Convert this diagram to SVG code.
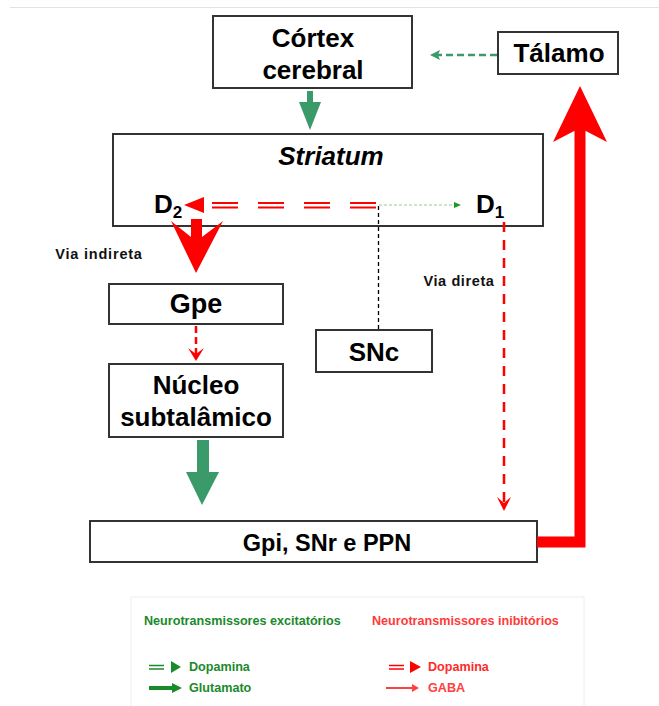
<svg xmlns="http://www.w3.org/2000/svg" width="659" height="706" viewBox="0 0 659 706">
<style>
.box{fill:#fff;stroke:#333;stroke-width:2}
.t{font-family:"Liberation Sans",Arial,sans-serif;font-weight:bold;fill:#000;text-anchor:middle}
.big{font-size:26px}
.sm{font-size:14.5px;fill:#111;letter-spacing:0.8px}
.lg{font-family:"Liberation Sans",Arial,sans-serif;font-weight:bold;font-size:12.6px}
</style>
<rect width="659" height="706" fill="#fff"/>
<line x1="10" y1="7.5" x2="659" y2="7.5" stroke="#e3e3e3" stroke-width="1"/>

<g id="cortex"><rect class="box" x="213" y="16" width="199" height="72"/>
<text class="t big" x="313" y="47">Córtex</text><text class="t big" x="313" y="79">cerebral</text></g>

<g id="talamo"><rect class="box" x="498" y="32" width="120" height="42"/>
<text class="t big" x="559" y="62" font-size="26.5">Tálamo</text></g>

<g id="striatum"><rect class="box" x="113" y="134" width="430" height="92"/>
<text class="t big" x="331" y="165" font-style="italic">Striatum</text>
<text class="t" x="154" y="213" style="text-anchor:start;font-size:26px">D<tspan font-size="17" dy="5">2</tspan></text>
<text class="t" x="476" y="213" style="text-anchor:start;font-size:26px">D<tspan font-size="17" dy="5">1</tspan></text></g>

<g id="gpe"><rect class="box" x="109" y="284" width="174" height="40"/>
<text class="t" x="196" y="313" font-size="27">Gpe</text></g>

<g id="snc"><rect class="box" x="316" y="330" width="116" height="42"/>
<text class="t" x="374" y="361" font-size="26">SNc</text></g>

<g id="nucleo"><rect class="box" x="109" y="364" width="174" height="73"/>
<text class="t big" x="196" y="394">Núcleo</text><text class="t big" x="196" y="426">subtalâmico</text></g>

<g id="gpi"><rect class="box" x="90" y="521" width="447" height="41"/>
<text class="t" x="327" y="551" font-size="23.5">Gpi, SNr e PPN</text></g>

<g id="labels">
<text class="t sm" x="99" y="259">Via indireta</text>
<text class="t sm" x="459" y="286" font-size="15" style="letter-spacing:0.6px">Via direta</text>
</g>

<g id="connectors">
<line x1="497" y1="55" x2="438" y2="55" stroke="#3a9a6a" stroke-width="2.5" stroke-dasharray="7 4"/>
<polygon points="430,55 440,50 438,55 440,60" fill="#3a9a6a"/>
<rect x="307" y="91" width="6" height="13" fill="#3a9a6a"/>
<polygon points="299,102 321,102 310,130" fill="#3a9a6a"/>
<g stroke="#f00" stroke-width="2" stroke-dasharray="26 20">
<line x1="212" y1="203" x2="378" y2="203"/><line x1="212" y1="207.5" x2="378" y2="207.5"/></g>
<polygon points="184,205 204,197 204,213" fill="#f00"/>
<line x1="379" y1="205" x2="455" y2="205" stroke="#8fd08f" stroke-width="1" stroke-dasharray="3 2"/>
<polygon points="461,205 454,202 454,208" fill="#1a9a1a"/>
<line x1="378.5" y1="206" x2="378.5" y2="330" stroke="#000" stroke-width="1.3" stroke-dasharray="4 3"/>
<rect x="191" y="219" width="11" height="20" fill="#f00"/>
<polygon points="171,221 196,273 223,221 202,237 191,237" fill="#f00"/>
<line x1="196" y1="326" x2="196" y2="356" stroke="#f00" stroke-width="2.5" stroke-dasharray="7 4"/>
<polygon points="188,348 196,361 204,348 196,354" fill="#f00"/>
<rect x="197" y="440" width="12" height="34" fill="#3a9a6a"/>
<polygon points="186,472 219,472 202,505" fill="#3a9a6a"/>
<line x1="504" y1="222" x2="504" y2="505" stroke="#f00" stroke-width="2.5" stroke-dasharray="10 8"/>
<polygon points="497,497 504,511 511,497 504,503" fill="#f00"/>
<polyline points="537,542 580,542 580,128" fill="none" stroke="#f00" stroke-width="11"/>
<polygon points="580,86 607,142 580,128 553,142" fill="#f00"/>
</g>

<g id="legend">
<rect x="131" y="597" width="453" height="112" fill="none" stroke="#eeeeee" stroke-width="1"/>
<text class="lg" x="144" y="625" fill="#1a8a2a">Neurotransmissores excitatórios</text>
<text class="lg" x="372" y="625" fill="#ff3a3a">Neurotransmissores inibitórios</text>
<g stroke="#1a8a2a" stroke-width="1.5"><line x1="149" y1="665.5" x2="164" y2="665.5"/><line x1="149" y1="669" x2="164" y2="669"/></g>
<polygon points="171,661 181,667 171,673" fill="#1a8a2a"/>
<text class="lg" x="189" y="671" fill="#1a8a2a" font-size="13">Dopamina</text>
<line x1="149" y1="688" x2="174" y2="688" stroke="#1a8a2a" stroke-width="4"/>
<polygon points="172,683 182,688 172,693" fill="#1a8a2a"/>
<text class="lg" x="189" y="692" fill="#1a8a2a" font-size="11">Glutamato</text>
<g stroke="#f00" stroke-width="1.5"><line x1="389" y1="665.5" x2="404" y2="665.5"/><line x1="389" y1="669" x2="404" y2="669"/></g>
<polygon points="410,661 421,667 410,673" fill="#f00"/>
<text class="lg" x="428" y="671" fill="#ff2a2a" font-size="11.5">Dopamina</text>
<line x1="386" y1="688" x2="414" y2="688" stroke="#ff4040" stroke-width="2"/>
<polygon points="412,684 419,688 412,692" fill="#ff4040"/>
<text class="lg" x="428" y="692" fill="#ff4040" font-size="12">GABA</text>
</g>
</svg>
